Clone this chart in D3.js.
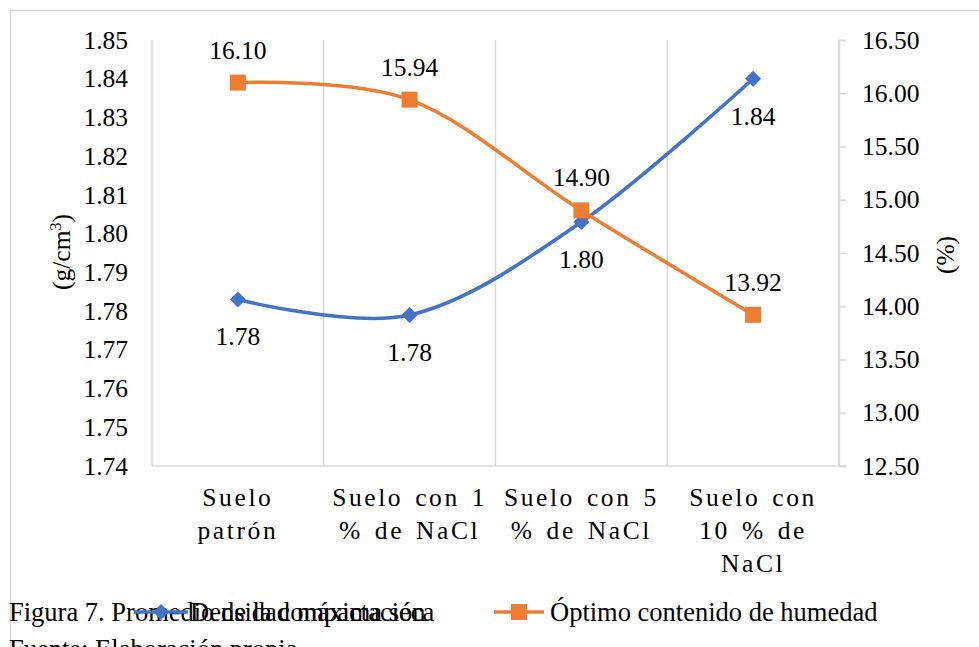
<!DOCTYPE html>
<html>
<head>
<meta charset="utf-8">
<script src="https://cdn.jsdelivr.net/npm/d3@7"></script>
<style>
  body { margin: 0; background: #fff; }
</style>
</head>
<body>
<div id="container"></div>
<script>
// data
var categories = ["Suelo patrón", "Suelo con 1 % de NaCl", "Suelo con 5 % de NaCl", "Suelo con 10 % de NaCl"];
var categoryLines = [["Suelo", "patrón"], ["Suelo con 1", "% de NaCl"], ["Suelo con 5", "% de NaCl"], ["Suelo con", "10 % de", "NaCl"]];
var densidad = [1.783, 1.779, 1.803, 1.840];
var humedad = [16.10, 15.94, 14.90, 13.92];
var leftTicks = [1.74, 1.75, 1.76, 1.77, 1.78, 1.79, 1.80, 1.81, 1.82, 1.83, 1.84, 1.85];
var rightTicks = [12.5, 13.0, 13.5, 14.0, 14.5, 15.0, 15.5, 16.0, 16.5];
var seriesNames = ["Densidad máxima seca", "Óptimo contenido de humedad"];
var caption = ["Figura 7. Promedio de la compactación", "Fuente: Elaboración propia"];

var W = 979, H = 647;
var margin = { top: 40, right: 140, bottom: 181, left: 152 };
var fontSize = 25.5;
var serif = "Liberation Serif, Times New Roman, serif";
var blue = "#4472C4", orange = "#ED7D31", grid = "#d9d9d9";

var svg = d3.select("#container").append("svg")
    .attr("width", W)
    .attr("height", H)
    .attr("font-family", serif);

// outer chart frame
svg.append("rect")
    .attr("x", 10.5).attr("y", 10.5)
    .attr("width", W).attr("height", H)
    .attr("fill", "none").attr("stroke", grid).attr("stroke-width", 1.5);

var x = d3.scaleBand().domain(categories).range([margin.left, W - margin.right]);
var yL = d3.scaleLinear().domain([1.74, 1.85]).range([H - margin.bottom, margin.top]);
var yR = d3.scaleLinear().domain([12.5, 16.5]).range([H - margin.bottom, margin.top]);
var cx = function (d, i) { return x(categories[i]) + x.bandwidth() / 2; };

// vertical gridlines at category borders
var borders = categories.map(function (c) { return x(c); }).concat([x.range()[1]]);
svg.append("g").selectAll("line")
    .data(borders)
    .join("line")
    .attr("x1", function (d) { return d; }).attr("x2", function (d) { return d; })
    .attr("y1", margin.top).attr("y2", H - margin.bottom)
    .attr("stroke", grid).attr("stroke-width", 1.5);

// bottom axis line
svg.append("line")
    .attr("x1", margin.left).attr("x2", W - margin.right + 8)
    .attr("y1", H - margin.bottom).attr("y2", H - margin.bottom)
    .attr("stroke", grid).attr("stroke-width", 1.5);

// left axis
var leftAxis = svg.append("g")
    .attr("transform", "translate(" + margin.left + ",0)")
    .call(d3.axisLeft(yL).tickValues(leftTicks).tickFormat(d3.format(".2f")).tickSize(0).tickPadding(24));
leftAxis.attr("font-family", serif).attr("font-size", fontSize);
leftAxis.select(".domain").remove();
leftAxis.selectAll("text").attr("fill", "#000");

// right axis
var rightAxis = svg.append("g")
    .attr("transform", "translate(" + (W - margin.right) + ",0)")
    .call(d3.axisRight(yR).tickValues(rightTicks).tickFormat(d3.format(".2f")).tickSize(7).tickPadding(16));
rightAxis.attr("font-family", serif).attr("font-size", fontSize);
rightAxis.select(".domain").attr("stroke", grid).attr("stroke-width", 1.5);
rightAxis.selectAll(".tick line").attr("stroke", grid).attr("stroke-width", 1.5);
rightAxis.selectAll("text").attr("fill", "#000");

// category labels
var catG = svg.append("g").selectAll("text")
    .data(categoryLines)
    .join("text")
    .attr("text-anchor", "middle")
    .attr("font-family", serif)
    .attr("font-size", fontSize)
    .attr("letter-spacing", 2.6)
    .attr("word-spacing", 3)
    .attr("transform", function (d, i) { return "translate(" + cx(d, i) + "," + (H - margin.bottom + 40) + ")"; });
catG.selectAll("tspan")
    .data(function (d) { return d; })
    .join("tspan")
    .attr("x", 0)
    .attr("y", function (d, j) { return j * 33; })
    .text(function (d) { return d; });

// axis titles
var yTitle = svg.append("text")
    .attr("transform", "translate(70,252) rotate(-90)")
    .attr("text-anchor", "middle")
    .attr("font-family", serif)
    .attr("font-size", fontSize);
yTitle.append("tspan").text("(g/cm");
yTitle.append("tspan").attr("dy", -9).attr("font-size", 16).text("3");
yTitle.append("tspan").attr("dy", 9).text(")");

svg.append("text")
    .attr("transform", "translate(954,255) rotate(-90)")
    .attr("text-anchor", "middle")
    .attr("font-family", serif)
    .attr("font-size", fontSize)
    .text("(%)");

// lines
var curve = d3.curveCardinal.tension(0);
var lineL = d3.line().x(cx).y(function (d) { return yL(d); }).curve(curve);
var lineR = d3.line().x(cx).y(function (d) { return yR(d); }).curve(curve);

svg.append("path").datum(densidad)
    .attr("d", lineL).attr("fill", "none").attr("stroke", blue).attr("stroke-width", 3.5);
svg.append("path").datum(humedad)
    .attr("d", lineR).attr("fill", "none").attr("stroke", orange).attr("stroke-width", 3.5);

// markers
var diamond = d3.symbol().type(d3.symbolSquare).size(128);
svg.append("g").selectAll("path")
    .data(densidad)
    .join("path")
    .attr("d", diamond)
    .attr("transform", function (d, i) { return "translate(" + cx(d, i) + "," + yL(d) + ") rotate(45)"; })
    .attr("fill", blue);

svg.append("g").selectAll("rect")
    .data(humedad)
    .join("rect")
    .attr("x", function (d, i) { return cx(d, i) - 8; })
    .attr("y", function (d) { return yR(d) - 8; })
    .attr("width", 16).attr("height", 16)
    .attr("fill", orange);

// data labels
svg.append("g").selectAll("text")
    .data(densidad)
    .join("text")
    .attr("x", cx)
    .attr("y", function (d) { return yL(d) + 37; })
    .attr("dy", "0.35em")
    .attr("text-anchor", "middle")
    .attr("font-family", serif)
    .attr("font-size", fontSize)
    .text(function (d) { return d3.format(".2f")(d); });

svg.append("g").selectAll("text")
    .data(humedad)
    .join("text")
    .attr("x", cx)
    .attr("y", function (d) { return yR(d) - 33; })
    .attr("dy", "0.35em")
    .attr("text-anchor", "middle")
    .attr("font-family", serif)
    .attr("font-size", fontSize)
    .text(function (d) { return d3.format(".2f")(d); });

// caption (sits under the legend, overlapping it as in the source)
var capSize = 26.5;
svg.append("text").attr("x", 9).attr("y", 621).attr("font-family", serif).attr("font-size", capSize).text(caption[0]);
svg.append("text").attr("x", 9).attr("y", 658).attr("font-family", serif).attr("font-size", capSize).text(caption[1]);

// legend
var legendY = 612;
var leg = [
    { name: seriesNames[0], color: blue, x0: 134, x1: 188, tx: 190, shape: "diamond" },
    { name: seriesNames[1], color: orange, x0: 494, x1: 544, tx: 550, shape: "square" }
];
var lg = svg.append("g").selectAll("g").data(leg).join("g");
lg.append("line")
    .attr("x1", function (d) { return d.x0; }).attr("x2", function (d) { return d.x1; })
    .attr("y1", legendY).attr("y2", legendY)
    .attr("stroke", function (d) { return d.color; }).attr("stroke-width", 3.5);
lg.append("path")
    .attr("d", function (d) { return d3.symbol().type(d3.symbolSquare).size(d.shape === "diamond" ? 128 : 256)(); })
    .attr("transform", function (d) {
        return "translate(" + ((d.x0 + d.x1) / 2) + "," + legendY + ")" + (d.shape === "diamond" ? " rotate(45)" : "");
    })
    .attr("fill", function (d) { return d.color; });
lg.append("text")
    .attr("x", function (d) { return d.tx; })
    .attr("y", legendY)
    .attr("dy", "0.33em")
    .attr("font-family", serif)
    .attr("font-size", capSize)
    .text(function (d) { return d.name; });
</script>
</body>
</html>
